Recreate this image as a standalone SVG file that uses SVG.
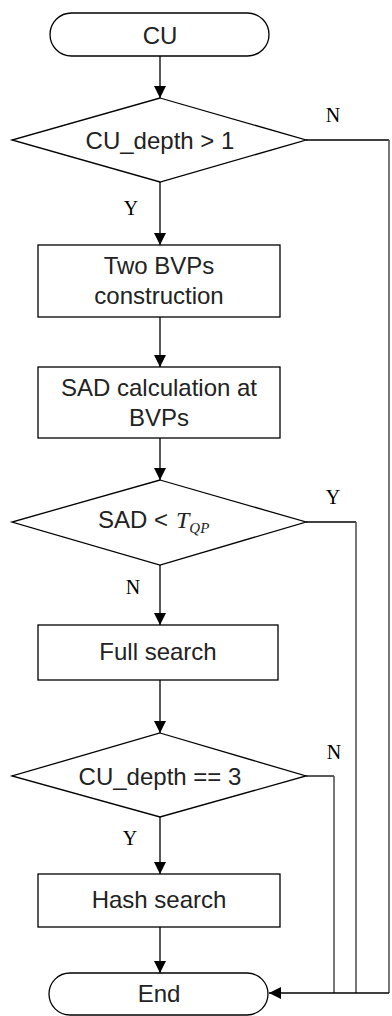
<svg xmlns="http://www.w3.org/2000/svg" width="392" height="1016" viewBox="0 0 392 1016">
<defs>
<style>
.s{fill:#fff;stroke:#000;stroke-width:1.3}
.t{font-family:"Liberation Sans",Arial,sans-serif;font-size:24px;fill:#222;text-anchor:middle}
.l{font-family:"Liberation Serif","Times New Roman",serif;font-size:20px;fill:#000;text-anchor:middle}
.c{fill:none;stroke:#000;stroke-width:1.3}
.g{fill:none;stroke:#555;stroke-width:1.6}
</style>
<marker id="a" viewBox="0 0 12 12" refX="12" refY="6" markerWidth="12" markerHeight="12" markerUnits="userSpaceOnUse" orient="auto">
<path d="M0,0 L12,6 L0,12 Z" fill="#000"/>
</marker>
</defs>
<rect width="392" height="1016" fill="#fff"/>
<g id="connectors">
<line class="c" x1="160" y1="56" x2="160" y2="98" marker-end="url(#a)"/>
<line class="c" x1="160" y1="182" x2="160" y2="245" marker-end="url(#a)"/>
<line class="c" x1="160" y1="317" x2="160" y2="367" marker-end="url(#a)"/>
<line class="c" x1="160" y1="438" x2="160" y2="480" marker-end="url(#a)"/>
<line class="c" x1="160" y1="565" x2="160" y2="625" marker-end="url(#a)"/>
<line class="c" x1="160" y1="680" x2="160" y2="733" marker-end="url(#a)"/>
<line class="c" x1="160" y1="817" x2="160" y2="874" marker-end="url(#a)"/>
<line class="c" x1="160" y1="927" x2="160" y2="973" marker-end="url(#a)"/>
<polyline class="c" points="306,522 356,522"/>
<polyline class="g" points="356,522 356,993"/>
<polyline class="c" points="306,776 334,776"/>
<polyline class="g" points="334,776 334,993"/>
<polyline class="c" points="306,140 389,140"/>
<polyline class="g" points="389,140 389,993"/>
<polyline class="c" points="389,993 269,993" marker-end="url(#a)"/>
<text class="l" x="131" y="215">Y</text>
<text class="l" x="333" y="122">N</text>
<text class="l" x="333" y="504">Y</text>
<text class="l" x="133" y="594">N</text>
<text class="l" x="334" y="759">N</text>
<text class="l" x="130" y="845">Y</text>
</g>
<g id="start">
<rect class="s" x="50" y="13" width="219" height="43" rx="21.5"/>
<text class="t" x="160" y="44">CU</text>
</g>
<g id="dec1">
<polygon class="s" points="160,98 306,140 160,182 12,140"/>
<text class="t" x="160" y="149">CU_depth &gt; 1</text>
</g>
<g id="bvp">
<rect class="s" x="38" y="245" width="242" height="72"/>
<text class="t" x="159" y="274">Two BVPs</text>
<text class="t" x="159" y="304">construction</text>
</g>
<g id="sad">
<rect class="s" x="38" y="367" width="242" height="71"/>
<text class="t" x="159" y="396">SAD calculation at</text>
<text class="t" x="159" y="426">BVPs</text>
</g>
<g id="dec2">
<polygon class="s" points="160,480 306,522 160,565 12,522"/>
<text font-family="Liberation Sans,Arial,sans-serif" font-size="24" fill="#222" x="98" y="528">SAD &lt; <tspan font-family="Liberation Serif,Times New Roman,serif" font-style="italic" x="176">T</tspan><tspan font-family="Liberation Serif,Times New Roman,serif" font-style="italic" font-size="15" dy="5">QP</tspan></text>
</g>
<g id="full">
<rect class="s" x="38" y="625" width="240" height="55"/>
<text class="t" x="158" y="660">Full search</text>
</g>
<g id="dec3">
<polygon class="s" points="160,733 306,776 160,817 12,776"/>
<text class="t" x="160" y="785">CU_depth == 3</text>
</g>
<g id="hash">
<rect class="s" x="38" y="874" width="242" height="53"/>
<text class="t" x="159" y="908">Hash search</text>
</g>
<g id="end">
<rect class="s" x="49" y="973" width="219" height="42" rx="21"/>
<text class="t" x="159" y="1002">End</text>
</g>
</svg>
